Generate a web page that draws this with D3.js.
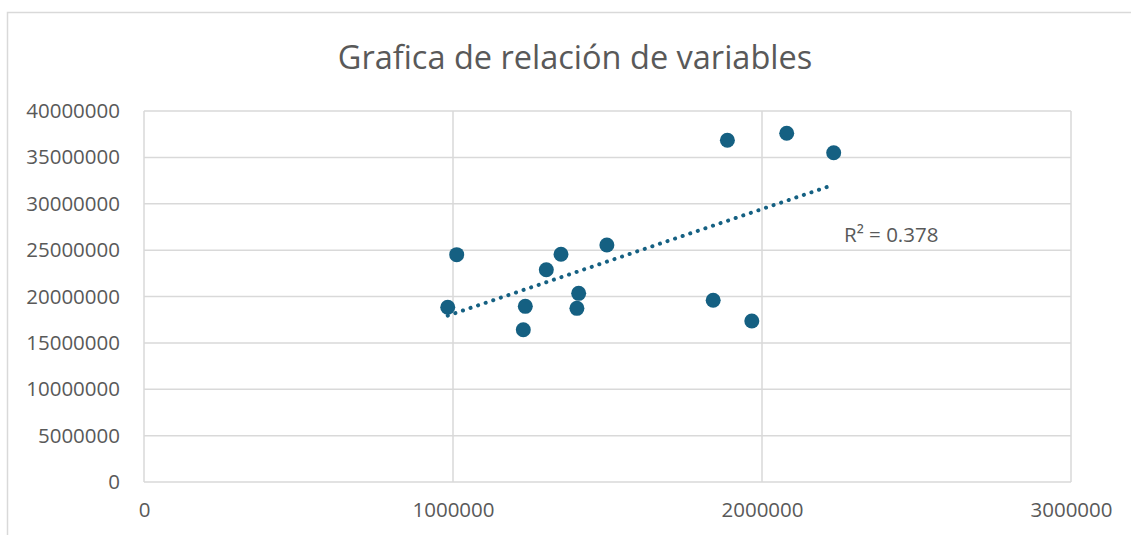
<!DOCTYPE html>
<html>
<head>
<meta charset="utf-8">
<script src="https://cdn.jsdelivr.net/npm/d3@7"></script>
<style>
  body { margin: 0; background: #fff; }
  svg { display: block; font-family: "Open Sans", sans-serif; }
</style>
</head>
<body>
<div id="chart"></div>
<script>
// values
const xValues = [983000, 1012000, 1227500, 1234000, 1302000, 1349500, 1406700, 1401000, 1498000, 1842000, 1888000, 1967000, 2080000, 2232000];
const yValues = [18840000, 24510000, 16420000, 18940000, 22890000, 24550000, 20340000, 18720000, 25550000, 19590000, 36840000, 17360000, 37600000, 35500000];
const xTicks = [0, 1000000, 2000000, 3000000];
const yTicks = [0, 5000000, 10000000, 15000000, 20000000, 25000000, 30000000, 35000000, 40000000];
const titleText = "Grafica de relación de variables";
const rSquared = 0.378;

const width = 1131, height = 535;
const margin = {top: 111, right: 60, bottom: 53, left: 144};
const blue = "#156082";
const grid = "#d9d9d9";
const textCol = "#595959";

const svg = d3.select("#chart").append("svg")
    .attr("width", width)
    .attr("height", height);

// chart area border (runs off the right and bottom of the image)
svg.append("rect")
    .attr("x", 7.5).attr("y", 12.5)
    .attr("width", 1200).attr("height", 600)
    .attr("fill", "none")
    .attr("stroke", grid)
    .attr("stroke-width", 1.5);

const x = d3.scaleLinear().domain([0, 3000000]).range([margin.left, 1071]);
const y = d3.scaleLinear().domain([0, 40000000]).range([482, margin.top]);

// gridlines
svg.append("g").selectAll("line")
    .data(yTicks)
    .join("line")
    .attr("x1", x(0)).attr("x2", x(3000000))
    .attr("y1", d => y(d)).attr("y2", d => y(d))
    .attr("stroke", grid).attr("stroke-width", 1.5);

svg.append("g").selectAll("line")
    .data(xTicks)
    .join("line")
    .attr("x1", d => x(d)).attr("x2", d => x(d))
    .attr("y1", y(0)).attr("y2", y(40000000))
    .attr("stroke", grid).attr("stroke-width", 1.5);

// axis labels
const yAxis = d3.axisLeft(y).tickValues(yTicks).tickSize(0).tickPadding(24).tickFormat(d3.format("d"));
svg.append("g")
    .attr("transform", `translate(${x(0)},0)`)
    .call(yAxis)
    .call(g => g.select(".domain").remove())
    .selectAll("text")
    .attr("font-size", 20.5)
    .attr("font-family", "Open Sans, sans-serif")
    .attr("fill", textCol);

const xAxis = d3.axisBottom(x).tickValues(xTicks).tickSize(0).tickPadding(20).tickFormat(d3.format("d"));
svg.append("g")
    .attr("transform", `translate(0,${y(0)})`)
    .call(xAxis)
    .call(g => g.select(".domain").remove())
    .selectAll("text")
    .attr("font-size", 20.5)
    .attr("font-family", "Open Sans, sans-serif")
    .attr("fill", textCol);

// title
svg.append("text")
    .attr("x", 575).attr("y", 69)
    .attr("text-anchor", "middle")
    .attr("font-size", 32.5)
    .attr("fill", textCol)
    .text(titleText);

// linear trendline
const points = xValues.map((v, i) => ({x: v, y: yValues[i]}));
const mx = d3.mean(xValues), my = d3.mean(yValues);
const slope = d3.sum(points, p => (p.x - mx) * (p.y - my)) / d3.sum(points, p => (p.x - mx) ** 2);
const intercept = my - slope * mx;
const xExt = d3.extent(xValues);

svg.append("line")
    .attr("x1", x(xExt[0])).attr("y1", y(intercept + slope * xExt[0]))
    .attr("x2", x(xExt[1])).attr("y2", y(intercept + slope * xExt[1]))
    .attr("stroke", blue)
    .attr("stroke-width", 4)
    .attr("stroke-linecap", "round")
    .attr("stroke-dasharray", "0.1 7.9");

// points
svg.append("g").selectAll("circle")
    .data(points)
    .join("circle")
    .attr("cx", d => x(d.x))
    .attr("cy", d => y(d.y))
    .attr("r", 7.5)
    .attr("fill", blue);

// R² label
svg.append("text")
    .attr("x", 844).attr("y", 242)
    .attr("font-size", 20.5)
    .attr("fill", textCol)
    .text(`R² = ${rSquared}`);
</script>
</body>
</html>
